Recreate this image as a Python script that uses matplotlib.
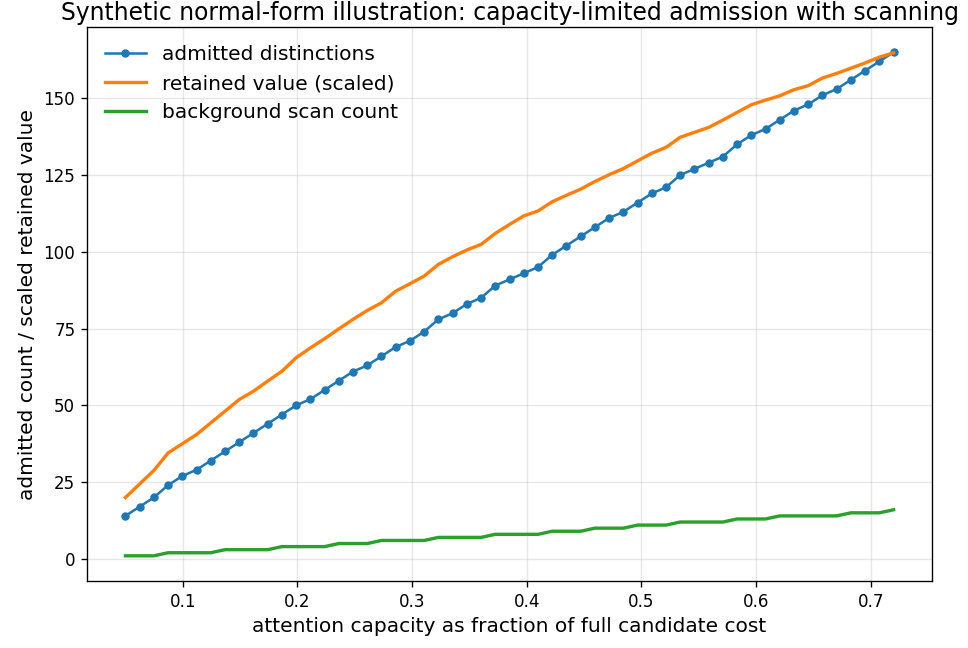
import numpy as np
import matplotlib
matplotlib.use("Agg")
import matplotlib.pyplot as plt

capacity = np.linspace(0.05, 0.72, 55)

admitted = [14, 17, 20, 24, 27, 29, 32, 35, 38, 41, 44, 47, 50, 52, 55, 58, 61, 63, 66, 69,
            71, 74, 78, 80, 83, 85, 89, 91, 93, 95, 99, 102, 105, 108, 111, 113, 116, 119, 121, 125,
            127, 129, 131, 135, 138, 140, 143, 146, 148, 151, 153, 156, 159, 162, 165]

retained = [20.0, 24.4, 28.8, 34.5, 37.5, 40.5, 44.3, 48.1, 51.9, 54.6, 57.9, 61.1, 65.5, 68.7,
            71.7, 74.9, 78.0, 80.9, 83.4, 87.2, 89.6, 92.1, 95.9, 98.4, 100.6, 102.4, 106.0, 108.9,
            111.7, 113.3, 116.3, 118.4, 120.4, 122.9, 125.1, 127.1, 129.6, 132.1, 134.0, 137.3,
            138.9, 140.5, 142.9, 145.4, 147.9, 149.4, 150.8, 152.8, 154.1, 156.6, 158.1, 159.8,
            161.5, 163.4, 164.8]

background = [1, 1, 1, 2, 2, 2, 2, 3, 3, 3, 3, 4, 4, 4, 4, 5, 5, 5, 6, 6, 6, 6, 7, 7, 7, 7,
              8, 8, 8, 8, 9, 9, 9, 10, 10, 10, 11, 11, 11, 12, 12, 12, 12, 13, 13, 13, 14, 14,
              14, 14, 14, 15, 15, 15, 16]

plt.rcParams['font.size'] = 10
fig = plt.figure(figsize=(8.0, 648 / 121), dpi=121)
ax = fig.add_axes([0.0899, 0.1034, 0.8729, 0.8549])

ax.plot(capacity, admitted, marker='o', markersize=4, linewidth=1.5, color='#1f77b4',
        label='admitted distinctions')
ax.plot(capacity, retained, linewidth=2, color='#ff7f0e', label='retained value (scaled)')
ax.plot(capacity, background, linewidth=2, color='#2ca02c', label='background scan count')

ax.grid(True, alpha=0.3)
ax.set_xlabel('attention capacity as fraction of full candidate cost', fontsize=12)
ax.set_ylabel('admitted count / scaled retained value', fontsize=12)
ax.set_title('Synthetic normal-form illustration: capacity-limited admission with scanning',
             fontsize=14, pad=4)
ax.legend(loc='upper left', frameon=False, fontsize=12)

fig.savefig('out.png', dpi=121)
